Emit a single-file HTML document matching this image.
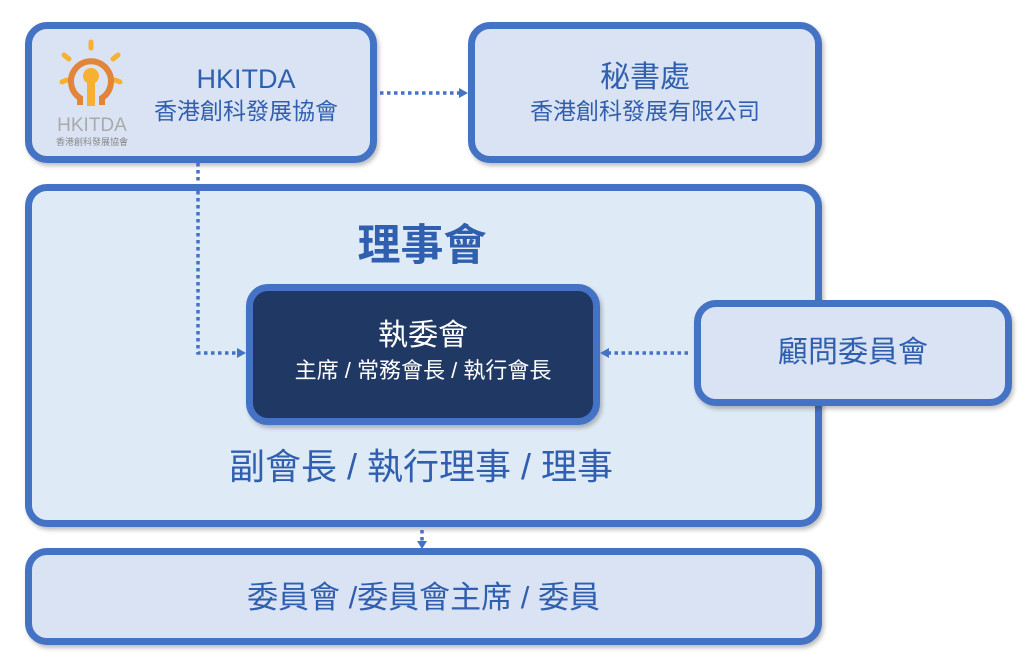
<!DOCTYPE html>
<html><head><meta charset="utf-8"><style>
body{margin:0;width:1024px;height:653px;background:#fff;position:relative;overflow:hidden;font-family:"Liberation Sans","Noto Sans CJK TC",sans-serif}
.b{position:absolute;box-sizing:border-box;border:7px solid #4472c4;border-radius:22px;background:#dae3f3;box-shadow:2px 3px 4px rgba(0,0,0,.25)}
.t{position:absolute;text-align:center;color:#2f5fae;white-space:nowrap}
</style></head><body>
<div class="b" style="left:25px;top:184px;width:797px;height:343px;background:#deeaf6"></div>
<div class="b" style="left:25px;top:22px;width:352px;height:141px"></div>
<div class="b" style="left:468px;top:22px;width:354px;height:141px"></div>
<div class="b" style="left:246px;top:284px;width:354px;height:141px;background:#203864;border-color:#4472c4"></div>
<div class="b" style="left:694px;top:300px;width:318px;height:106px"></div>
<div class="b" style="left:25px;top:548px;width:797px;height:97px"></div>

<svg style="position:absolute;left:0;top:0" width="1024" height="653">
<g stroke="#4472c4" stroke-width="3.5" stroke-dasharray="3.5 3.5" fill="none">
<path d="M380 93 H460"/>
<path d="M198 156 V353 H238"/>
<path d="M688 353 H608"/>
<path d="M422 530 V541"/>
</g>
<g fill="#4472c4">
<path d="M468 93 l-9 -5 v10z"/>
<path d="M246 353 l-9 -5 v10z"/>
<path d="M600 353 l9 -5 v10z"/>
<path d="M422 549 l-5 -8 h10z"/>
</g>
<g stroke="#f6b130" stroke-width="5" stroke-linecap="round">
<line x1="91" y1="42" x2="91" y2="48"/>
<line x1="64" y1="55" x2="69" y2="59"/>
<line x1="118" y1="55" x2="113" y2="59"/>
<line x1="62" y1="82" x2="67" y2="80"/>
<line x1="120" y1="82" x2="115" y2="80"/>
</g>
<path d="M80 105 L80 98 A20 20 0 1 1 102 98 L102 105" stroke="#e2843a" stroke-width="6" fill="none"/>
<circle cx="91" cy="76" r="8" fill="#f6b130"/>
<rect x="87" y="78" width="8" height="28" fill="#f6b130"/>
<text x="92" y="131" text-anchor="middle" font-family="Liberation Sans" font-size="19" fill="#aaa">HKITDA</text>
<text x="92" y="145" text-anchor="middle" font-family="Liberation Sans,Noto Sans CJK TC,sans-serif" font-size="9" fill="#888">香港創科發展協會</text>
</svg>

<div class="t" style="left:146px;width:200px;top:63px;font-size:27px;line-height:32px">HKITDA</div>
<div class="t" style="left:136px;width:220px;top:96px;font-size:23px;line-height:30px">香港創科發展協會</div>
<div class="t" style="left:468px;width:354px;top:60px;font-size:30px;line-height:36px">秘書處</div>
<div class="t" style="left:468px;width:354px;top:96px;font-size:23px;line-height:30px">香港創科發展有限公司</div>
<div class="t" style="left:322px;width:200px;top:220px;font-size:43px;line-height:52px;font-weight:bold">理事會</div>
<div class="t" style="left:246px;width:354px;top:318px;font-size:30px;line-height:36px;color:#fff">執委會</div>
<div class="t" style="left:246px;width:354px;top:356px;font-size:22px;line-height:30px;color:#fff">主席 / 常務會長 / 執行會長</div>
<div class="t" style="left:694px;width:318px;top:334px;font-size:30px;line-height:38px">顧問委員會</div>
<div class="t" style="left:146px;width:550px;top:445px;font-size:36px;line-height:44px">副會長 / 執行理事 / 理事</div>
<div class="t" style="left:25px;width:797px;top:578px;font-size:31px;line-height:40px">委員會 /委員會主席 / 委員</div>
</body></html>
